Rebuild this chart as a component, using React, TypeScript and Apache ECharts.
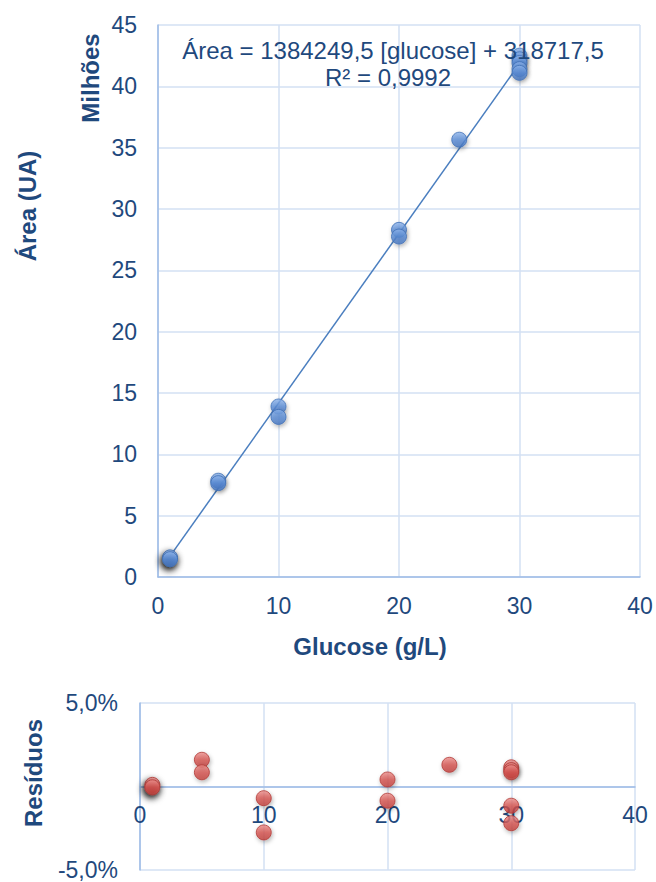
import React, { useEffect, useRef } from "react";
import * as echarts from "echarts";

// Calibration data (glucose g/L vs peak area, millions)
const glucose = [1, 1, 5, 5, 10, 10, 20, 20, 25, 30, 30, 30, 30, 30];
const areaMillions = [1.6, 1.45, 7.85, 7.65, 13.9, 13.05, 28.3, 27.75, 35.65, 42.5, 42.2, 41.9, 41.4, 41.1];
// Residuals (fraction)
const residualX = [1, 1, 5, 5, 10, 10, 20, 20, 25, 30, 30, 30, 30, 30];
const residuals = [0.001, -0.0005, 0.016, 0.0085, -0.007, -0.0275, 0.0042, -0.0085, 0.013, 0.0115, 0.0098, 0.0085, -0.0115, -0.022];
// Regression
const slope = 1384249.5;
const intercept = 318717.5;
const r2 = "0,9992";
const trendRange = [1, 30];
const xTicks = [0, 10, 20, 30, 40];
const yTicksMain = [0, 5, 10, 15, 20, 25, 30, 35, 40, 45];

const TXT = "#1f497d";
const FONT = "'Liberation Sans', Arial, sans-serif";
const AXIS = "#9dbbe6";
const GRID = "#d3e1f3";

const blueFill = new echarts.graphic.LinearGradient(0, 0, 0, 1, [
  { offset: 0, color: "#8fb5ec" },
  { offset: 0.5, color: "#5b8dd6" },
  { offset: 1, color: "#4675bf" },
]);
const redFill = new echarts.graphic.LinearGradient(0, 0, 0, 1, [
  { offset: 0, color: "#ec8f8c" },
  { offset: 0.5, color: "#d65652" },
  { offset: 1, color: "#c2403c" },
]);

// residual plot frame
const RES_TOP = 703;
const RES_H = 167;
const RES_MIN = -0.05;
const RES_MAX = 0.05;

export default function App() {
  const ref = useRef<HTMLDivElement>(null);
  useEffect(() => {
    if (!ref.current) return;
    const chart = echarts.init(ref.current, undefined, { renderer: "svg" });
    const darkShadow = { shadowColor: "rgba(0,0,0,0.95)", shadowBlur: 7, shadowOffsetX: -1, shadowOffsetY: 3 };
    const mainData = glucose.map((x, i) => {
      const item: any = { value: [x, areaMillions[i]] };
      if (x === 1) item.itemStyle = darkShadow;
      return item;
    });
    const resData = residualX.map((x, i) => {
      const item: any = { value: [x, residuals[i]] };
      if (x === 1) item.itemStyle = darkShadow;
      return item;
    });
    const trend = trendRange.map((x) => [x, (slope * x + intercept) / 1e6]);
    const tickLabel = { color: TXT, fontSize: 23, fontFamily: FONT };
    // move residual x axis up to the zero line
    const zeroOffset = -(RES_H * (0 - RES_MIN)) / (RES_MAX - RES_MIN);
    chart.setOption({
      animation: false,
      grid: [
        { left: 158, top: 25, width: 482, height: 552, containLabel: false, outerBoundsMode: "none" },
        { left: 140, top: RES_TOP, width: 495, height: RES_H, containLabel: false, outerBoundsMode: "none" },
      ],
      xAxis: [
        {
          gridIndex: 0, type: "value", min: xTicks[0], max: xTicks[xTicks.length - 1], interval: 10,
          axisLine: { show: true, lineStyle: { color: AXIS, width: 1.5 } },
          axisTick: { show: false },
          axisLabel: { ...tickLabel, margin: 17 },
          splitLine: { show: true, lineStyle: { color: GRID, width: 1.5 } },
        },
        {
          gridIndex: 1, type: "value", min: xTicks[0], max: xTicks[xTicks.length - 1], interval: 10,
          position: "bottom", offset: zeroOffset,
          axisLine: { show: true, onZero: false, lineStyle: { color: AXIS, width: 1.5 } },
          axisTick: { show: false },
          axisLabel: { ...tickLabel, margin: 17 },
          splitLine: { show: true, lineStyle: { color: GRID, width: 1.5 } },
        },
      ],
      yAxis: [
        {
          gridIndex: 0, type: "value", min: yTicksMain[0], max: yTicksMain[yTicksMain.length - 1], interval: 5,
          axisLine: { show: true, lineStyle: { color: AXIS, width: 1.5 } },
          axisTick: { show: false },
          axisLabel: { ...tickLabel, margin: 21 },
          splitLine: { show: true, lineStyle: { color: GRID, width: 1.5 } },
        },
        {
          gridIndex: 1, type: "value", min: RES_MIN, max: RES_MAX, interval: 0.05,
          axisLine: { show: true, onZero: false, lineStyle: { color: AXIS, width: 1.5 } },
          axisTick: { show: false },
          axisLabel: {
            ...tickLabel, margin: 22,
            formatter: (v: number) => (Math.abs(v) < 1e-9 ? "" : (v * 100).toFixed(1).replace(".", ",") + "%"),
          },
          splitLine: { show: true, lineStyle: { color: GRID, width: 1.5 } },
        },
      ],
      series: [
        {
          type: "line", xAxisIndex: 0, yAxisIndex: 0, data: trend, showSymbol: false,
          lineStyle: { color: "#4a7ebf", width: 1.5 }, z: 2, silent: true,
        },
        {
          type: "scatter", xAxisIndex: 0, yAxisIndex: 0, data: mainData, symbolSize: 15, z: 3,
          itemStyle: {
            color: blueFill, borderColor: "#3f6fb5", borderWidth: 1,
            shadowColor: "rgba(0,0,0,0.35)", shadowBlur: 4, shadowOffsetX: 1, shadowOffsetY: 2,
          },
        },
        {
          type: "scatter", xAxisIndex: 1, yAxisIndex: 1, data: resData, symbolSize: 15, z: 3,
          itemStyle: {
            color: redFill, borderColor: "#b03a36", borderWidth: 1,
            shadowColor: "rgba(0,0,0,0.35)", shadowBlur: 4, shadowOffsetX: 1, shadowOffsetY: 2,
          },
        },
      ],
      graphic: [
        {
          type: "text", x: 393, y: 50, z: 10,
          style: {
            text: "Área = " + slope.toFixed(1).replace(".", ",") + " [glucose] + " + intercept.toFixed(1).replace(".", ","),
            fill: TXT, fontSize: 24, fontFamily: FONT, textAlign: "center", textVerticalAlign: "middle",
          },
        },
        {
          type: "text", x: 388, y: 77, z: 10,
          style: { text: "R² = " + r2, fill: TXT, fontSize: 24, fontFamily: FONT, textAlign: "center", textVerticalAlign: "middle" },
        },
        {
          type: "text", x: 370, y: 646,
          style: { text: "Glucose (g/L)", fill: TXT, fontSize: 24, fontWeight: "bold", fontFamily: FONT, textAlign: "center", textVerticalAlign: "middle" },
        },
        {
          type: "text", x: 27, y: 206, rotation: Math.PI / 2,
          style: { text: "Área (UA)", fill: TXT, fontSize: 24, fontWeight: "bold", fontFamily: FONT, textAlign: "center", textVerticalAlign: "middle" },
        },
        {
          type: "text", x: 90, y: 78, rotation: Math.PI / 2,
          style: { text: "Milhões", fill: TXT, fontSize: 24, fontWeight: "bold", fontFamily: FONT, textAlign: "center", textVerticalAlign: "middle" },
        },
        {
          type: "text", x: 33, y: 773, rotation: Math.PI / 2,
          style: { text: "Resíduos", fill: TXT, fontSize: 24, fontWeight: "bold", fontFamily: FONT, textAlign: "center", textVerticalAlign: "middle" },
        },
      ],
    });
    return () => chart.dispose();
  }, []);
  return (
    <div
      ref={ref}
      style={{ position: "absolute", left: 0, top: 0, width: 656, height: 882, background: "#ffffff" }}
    />
  );
}
